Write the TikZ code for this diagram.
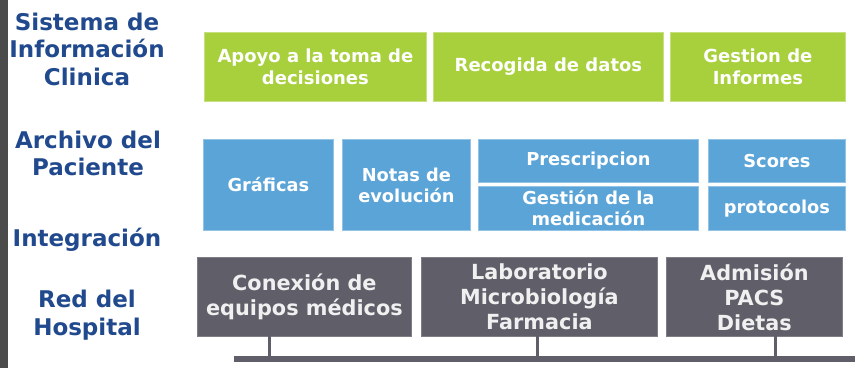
\documentclass[tikz,border=0pt]{standalone}
\usepackage{fontspec}
\setmainfont{DejaVu Sans}
\definecolor{grn}{HTML}{A8D03D}
\definecolor{blu}{HTML}{5BA4D7}
\definecolor{gry}{HTML}{5F5E69}
\definecolor{lbl}{HTML}{21498D}
\definecolor{strip}{HTML}{4B4B4B}
\begin{document}
\begin{tikzpicture}[x=1pt,y=-1pt,
  boxbase/.style={anchor=north west, inner sep=0pt, align=center, font=\bfseries, text=white, line width=0.8pt},
  gbox/.style={boxbase, fill=grn, draw=grn!65!white, font=\bfseries\fontsize{18}{22}\selectfont},
  bbox/.style={boxbase, fill=blu, draw=blu!65!white, font=\bfseries\fontsize{17.8}{21}\selectfont},
  rbox/.style={boxbase, fill=gry, draw=gry!80!white, text=white!94!black, font=\bfseries\fontsize{20.8}{25}\selectfont},
  lefttxt/.style={align=center, text=lbl, font=\bfseries\fontsize{23}{27.5}\selectfont, inner sep=0pt},
  bus/.style={draw=gry, line width=6pt},
  stem/.style={draw=gry, line width=3pt}]
\useasboundingbox (0,0) rectangle (858,368);
\fill[white] (0,0) rectangle (858,368);
\fill[strip] (0,0) rectangle (7.5,368);
% left labels
\node[lefttxt] (l1) at (87,49) {Sistema de\\Información\\Clinica};
\node[lefttxt] (l2) at (88,153.5) {Archivo del\\Paciente};
\node[lefttxt] (l3) at (87,240) {Integración};
\node[lefttxt] (l4) at (87,315) {Red del\\Hospital};
% green row
\node[gbox, minimum width=222pt, minimum height=69pt] (g1) at (204,32) {Apoyo a la toma de\\decisiones};
\node[gbox, minimum width=230pt, minimum height=69pt] (g2) at (433,32) {Recogida de datos};
\node[gbox, minimum width=175pt, minimum height=69pt] (g3) at (670,32) {Gestion de\\Informes};
% blue row
\node[bbox, minimum width=130pt, minimum height=91pt] (b1) at (203,139) {Gráficas};
\node[bbox, minimum width=128pt, minimum height=91pt] (b2) at (342,139) {Notas de\\evolución};
\node[bbox, minimum width=220pt, minimum height=43pt] (b3) at (478,139) {Prescripcion};
\node[bbox, minimum width=220pt, minimum height=44pt] (b4) at (478,186) {Gestión de la\\medicación};
\node[bbox, minimum width=137pt, minimum height=43pt] (b5) at (708,139) {Scores};
\node[bbox, minimum width=137pt, minimum height=44pt] (b6) at (708,186) {protocolos};
% gray row
\node[rbox, minimum width=214pt, minimum height=79pt] (r1) at (197,257) {Conexión de\\equipos médicos};
\node[rbox, minimum width=236pt, minimum height=79pt] (r2) at (421,257) {Laboratorio\\Microbiología\\Farmacia};
\node[rbox, minimum width=176pt, minimum height=79pt] (r3) at (666,257) {Admisión\\PACS\\Dietas};
% bus
\coordinate (busL) at (234,359);
\coordinate (busR) at (855,359);
\coordinate (s1) at (269,336);
\coordinate (s2) at (537,336);
\coordinate (s3) at (775,336);
\draw[stem] (s1) -- (s1 |- busL);
\draw[stem] (s2) -- (s2 |- busL);
\draw[stem] (s3) -- (s3 |- busL);
\draw[bus] (busL) -- (busR);
\end{tikzpicture}
\end{document}
